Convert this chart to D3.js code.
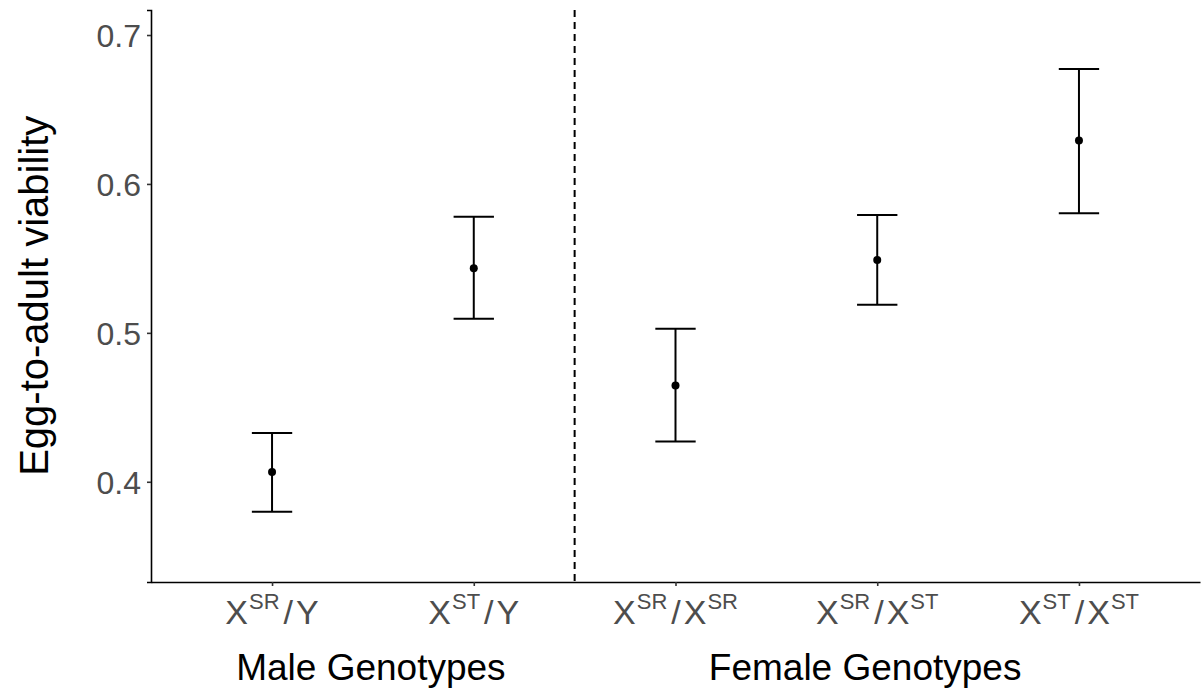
<!DOCTYPE html>
<html>
<head>
<meta charset="utf-8">
<script src="https://cdn.jsdelivr.net/npm/d3@7"></script>
<style>
  body { margin: 0; background: #fff; }
  text { font-family: "Liberation Sans", Arial, sans-serif; }
</style>
</head>
<body>
<div id="plot"></div>
<script>
// data
const genotypes = ["XSR/Y", "XST/Y", "XSR/XSR", "XSR/XST", "XST/XST"];
// label parts: [base, superscript] pairs joined by "/"
const labelParts = [
  [["X", "SR"], ["Y", ""]],
  [["X", "ST"], ["Y", ""]],
  [["X", "SR"], ["X", "SR"]],
  [["X", "SR"], ["X", "ST"]],
  [["X", "ST"], ["X", "ST"]]
];
const means = [0.4065, 0.5434, 0.4646, 0.5490, 0.6291];
const lower = [0.3799, 0.5094, 0.4270, 0.5188, 0.5803];
const upper = [0.4327, 0.5780, 0.5027, 0.5792, 0.6772];
const yTicks = [0.4, 0.5, 0.6, 0.7];
const groupNames = ["Male Genotypes", "Female Genotypes"];

const W = 1201, H = 698;
const margin = {top: 10, right: 1, bottom: 116, left: 151};
const width = W - margin.left - margin.right,
      height = H - margin.top - margin.bottom;
// where the group titles sit, in category units
const groupAt = [0.49, 2.94];

const svg = d3.select("#plot")
  .append("svg")
  .attr("width", W)
  .attr("height", H)
  .append("g")
  .attr("transform", "translate(" + margin.left + "," + margin.top + ")");

// discrete x with ggplot style padding (0.6 each side)
let x = d3.scaleLinear()
  .domain([-0.6, genotypes.length - 1 + 0.6])
  .range([0, width]);

let y = d3.scaleLinear()
  .domain([0.3327, 0.7168])
  .range([height, 0]);

// dashed separator between male and female groups
svg.append("line")
  .attr("x1", x(1.5)).attr("x2", x(1.5))
  .attr("y1", 0).attr("y2", height)
  .attr("stroke", "black")
  .attr("stroke-width", 2)
  .attr("stroke-dasharray", "7,5");

// y axis
const yAxis = svg.append("g")
  .call(d3.axisLeft(y).tickValues(yTicks).tickFormat(d3.format(".1f")).tickSize(4).tickPadding(6));
yAxis.select(".domain").attr("stroke", "black").attr("stroke-width", 1.6);
yAxis.selectAll(".tick line").attr("stroke", "#333").attr("stroke-width", 1.6);
yAxis.selectAll(".tick text")
  .attr("fill", "#4d4d4d")
  .style("font-size", "32px")
  .attr("dy", "0.36em");

// x axis
const xAxis = svg.append("g")
  .attr("transform", "translate(0," + height + ")")
  .call(d3.axisBottom(x).tickValues(d3.range(genotypes.length)).tickSize(4).tickSizeOuter(0));
xAxis.select(".domain").attr("stroke", "black").attr("stroke-width", 1.6);
xAxis.selectAll(".tick line").attr("stroke", "#333").attr("stroke-width", 1.6);
xAxis.selectAll(".tick text").remove();

// tick labels with superscripts
const lab = svg.append("g").selectAll("text")
  .data(labelParts)
  .enter()
  .append("text")
  .attr("x", (d, i) => x(i))
  .attr("y", height + 42)
  .attr("text-anchor", "middle")
  .attr("fill", "#4d4d4d")
  .style("font-size", "34px");

lab.each(function(parts) {
  const t = d3.select(this);
  let raised = 0;
  parts.forEach((p, j) => {
    if (j > 0) {
      t.append("tspan").attr("dx", 4).attr("dy", raised).text("/");
      raised = 0;
    }
    t.append("tspan").attr("dx", j > 0 ? 3 : 0).attr("dy", raised).text(p[0]);
    raised = 0;
    if (p[1]) {
      t.append("tspan").attr("dy", -15).attr("dx", 1).style("font-size", "22px").text(p[1]);
      raised = 15;
    }
  });
});

// group titles
svg.append("g").selectAll("text")
  .data(groupNames)
  .enter()
  .append("text")
  .attr("x", (d, i) => x(groupAt[i]))
  .attr("y", height + 98)
  .attr("text-anchor", "middle")
  .attr("fill", "black")
  .style("font-size", "37px")
  .text(d => d);

// y title
svg.append("text")
  .attr("transform", "rotate(-90)")
  .attr("x", -y(0.5249))
  .attr("y", -margin.left + 48)
  .attr("text-anchor", "middle")
  .attr("fill", "black")
  .style("font-size", "40px")
  .text("Egg-to-adult viability");

// error bars
const idx = d3.range(genotypes.length);
svg.append("g").selectAll("line.stem")
  .data(idx)
  .enter()
  .append("line")
  .attr("x1", i => x(i)).attr("x2", i => x(i))
  .attr("y1", i => y(lower[i])).attr("y2", i => y(upper[i]))
  .attr("stroke", "black").attr("stroke-width", 2);

[lower, upper].forEach(arr => {
  svg.append("g").selectAll("line")
    .data(idx)
    .enter()
    .append("line")
    .attr("x1", i => x(i - 0.1)).attr("x2", i => x(i + 0.1))
    .attr("y1", i => y(arr[i])).attr("y2", i => y(arr[i]))
    .attr("stroke", "black").attr("stroke-width", 2);
});

// means
svg.append("g").selectAll("circle")
  .data(idx)
  .enter()
  .append("circle")
  .attr("cx", i => x(i))
  .attr("cy", i => y(means[i]))
  .attr("r", 4)
  .attr("fill", "black");
</script>
</body>
</html>
